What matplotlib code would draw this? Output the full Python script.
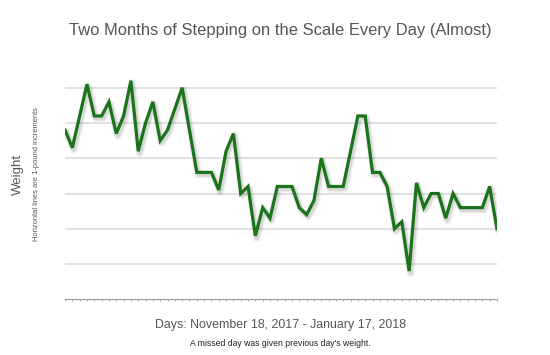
import numpy as np
import matplotlib
matplotlib.use("Agg")
import matplotlib.pyplot as plt

# daily weights (lbs), one per day
weights = [180.8, 180.3, 181.2, 182.1, 181.2, 181.2, 181.6, 180.7, 181.2, 182.2,
           180.2, 181.0, 181.6, 180.5, 180.8, 181.4, 182.0, 180.8, 179.6, 179.6,
           179.6, 179.1, 180.2, 180.7, 179.0, 179.2, 177.8, 178.6, 178.3, 179.2,
           179.2, 179.2, 178.6, 178.4, 178.8, 180.0, 179.2, 179.2, 179.2, 180.2,
           181.2, 181.2, 179.6, 179.6, 179.2, 178.0, 178.2, 176.8, 179.3, 178.6,
           179.0, 179.0, 178.3, 179.0, 178.6, 178.6, 178.6, 178.6, 179.2, 178.0]
days = np.arange(len(weights))

base = 176.0
grid_levels = [177, 178, 179, 180, 181, 182]

title = "Two Months of Stepping on the Scale Every Day (Almost)"
xlabel = "Days: November 18, 2017 - January 17, 2018"
ylabel = "Weight"
ysub = "Horizontal lines are 1-pound increments"
note = "A missed day was given previous day's weight."

plt.rcParams['font.family'] = ['Liberation Sans', 'DejaVu Sans']

fig = plt.figure(figsize=(5.5, 3.55), dpi=100)
ax = fig.add_axes([0.1182, 0.1569, 0.7854, 0.6555])

for g in grid_levels:
    ax.axhline(g, color='#dcdcdc', lw=1.2, zorder=1)

# soft shadow under the line
for w, a in [(6, 0.05), (4.5, 0.08), (3.2, 0.12)]:
    ax.plot(days + 0.2, np.array(weights) - 0.06, color='#555555', lw=w,
            alpha=a, solid_joinstyle='round', solid_capstyle='round', zorder=2)
ax.plot(days, weights, color='#1b741b', lw=2.3, solid_joinstyle='miter', zorder=3)

ax.set_xlim(0, len(weights) - 1)
ax.set_ylim(base, 182.6)

for s in ['top', 'right', 'left']:
    ax.spines[s].set_visible(False)
ax.spines['bottom'].set_color('#a0a0a0')
ax.spines['bottom'].set_linewidth(0.9)
ax.set_yticks([])
ax.set_xticks(days)
ax.tick_params(axis='x', length=1.5, width=0.6, color='#999999', labelbottom=False)

fig.text(0.51, 0.915, title, ha='center', va='center', fontsize=11.9, color='#555555')
fig.text(0.51, 0.085, xlabel, ha='center', va='center', fontsize=8.9, color='#555555')
fig.text(0.51, 0.033, note, ha='center', va='center', fontsize=6.2, color='#222222')
fig.text(0.033, 0.51, ylabel, ha='center', va='center', rotation=90, fontsize=9.5, color='#555555')
fig.text(0.066, 0.51, ysub, ha='center', va='center', rotation=90, fontsize=5.4, color='#555555')

fig.savefig("out.png", dpi=100)
